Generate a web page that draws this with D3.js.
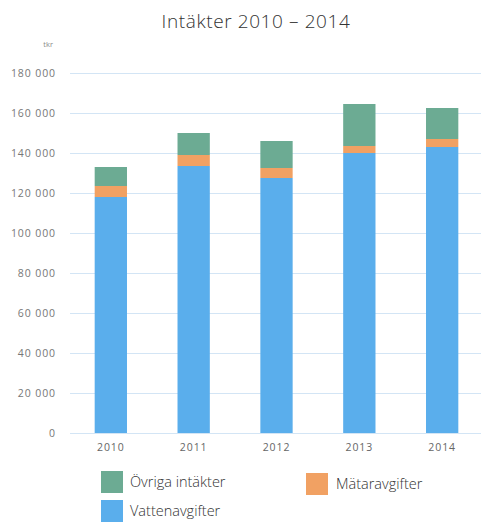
<!DOCTYPE html>
<html>
<head>
<meta charset="utf-8">
<script src="https://cdn.jsdelivr.net/npm/d3@7"></script>
<style>
  body { margin: 0; background: #fff; }
  text { font-family: "Open Sans", sans-serif; }
</style>
</head>
<body>
<svg id="chart" width="481" height="522"></svg>
<script>
// Data
var years = ["2010", "2011", "2012", "2013", "2014"];
var vattenavgifter = [118000, 133500, 127500, 140000, 143000];
var mataravgifter = [5500, 5500, 5000, 3500, 4000];
var ovrigaIntakter = [9500, 11000, 13500, 21000, 15500];
var yTicks = [0, 20000, 40000, 60000, 80000, 100000, 120000, 140000, 160000, 180000];

var seriesNames = ["Vattenavgifter", "Mätaravgifter", "Övriga intäkter"];
var colours = ["#5aaeec", "#f1a163", "#6cab93"];

var svg = d3.select("#chart");

var x = d3.scaleBand()
    .domain(years)
    .range([69, 484])
    .paddingInner(0.61)
    .paddingOuter(0.31);

var y = d3.scaleLinear()
    .domain([0, 180000])
    .range([433, 73]);

// Build stack table
var table = years.map(function(yr, i) {
    return {
        year: yr,
        "Vattenavgifter": vattenavgifter[i],
        "Mätaravgifter": mataravgifter[i],
        "Övriga intäkter": ovrigaIntakter[i]
    };
});
var stacked = d3.stack().keys(seriesNames)(table);

// Title
svg.append("text")
    .attr("x", 256).attr("y", 28)
    .attr("text-anchor", "middle")
    .attr("font-size", 19)
    .attr("font-weight", 300)
    .attr("letter-spacing", 0.6)
    .attr("fill", "#333")
    .text("Intäkter 2010 – 2014");

// unit label
svg.append("text")
    .attr("x", 53).attr("y", 47)
    .attr("text-anchor", "end")
    .attr("font-size", 7.5)
    .attr("fill", "#888")
    .text("tkr");

// Gridlines + y labels
var yAxis = d3.axisLeft(y)
    .tickValues(yTicks)
    .tickSize(-(481 - 70))
    .tickFormat(function(d) { return d3.format(",")(d).replace(/,/g, " "); });

var gy = svg.append("g")
    .attr("transform", "translate(70,0)")
    .call(yAxis);
gy.select(".domain").remove();
gy.selectAll(".tick line")
    .attr("stroke", "#d3e5f5")
    .attr("stroke-width", 1);
gy.selectAll(".tick text")
    .attr("x", -14)
    .attr("font-size", 10.5)
    .attr("letter-spacing", 0.9)
    .attr("fill", "#777")
    .attr("font-family", "'Open Sans', sans-serif");

// Bars
svg.append("g").selectAll("g")
    .data(stacked)
    .join("g")
    .attr("fill", function(d, i) { return colours[i]; })
    .selectAll("rect")
    .data(function(d) { return d; })
    .join("rect")
    .attr("x", function(d) { return x(d.data.year); })
    .attr("width", x.bandwidth())
    .attr("y", function(d) { return y(d[1]); })
    .attr("height", function(d) { return y(d[0]) - y(d[1]); });

// X axis labels
var xAxis = d3.axisBottom(x).tickSize(0).tickPadding(11);
var gx = svg.append("g")
    .attr("transform", "translate(0,433)")
    .call(xAxis);
gx.select(".domain").remove();
gx.selectAll(".tick text")
    .attr("font-size", 10.5)
    .attr("letter-spacing", 0.9)
    .attr("fill", "#666")
    .attr("font-family", "'Open Sans', sans-serif");

// Legend
var legendItems = [
    { name: "Övriga intäkter", colour: colours[2], x: 101, y: 471 },
    { name: "Mätaravgifter", colour: colours[1], x: 306, y: 473 },
    { name: "Vattenavgifter", colour: colours[0], x: 101, y: 500 }
];
var leg = svg.append("g").selectAll("g")
    .data(legendItems)
    .join("g")
    .attr("transform", function(d) { return "translate(" + d.x + "," + d.y + ")"; });
leg.append("rect")
    .attr("width", 22)
    .attr("height", 22)
    .attr("fill", function(d) { return d.colour; });
leg.append("text")
    .attr("x", function(d) { return d.name === "Mätaravgifter" ? 30 : 29; })
    .attr("y", 16)
    .attr("font-size", 14.5)
    .attr("font-weight", 300)
    .attr("fill", "#333")
    .text(function(d) { return d.name; });
</script>
</body>
</html>
